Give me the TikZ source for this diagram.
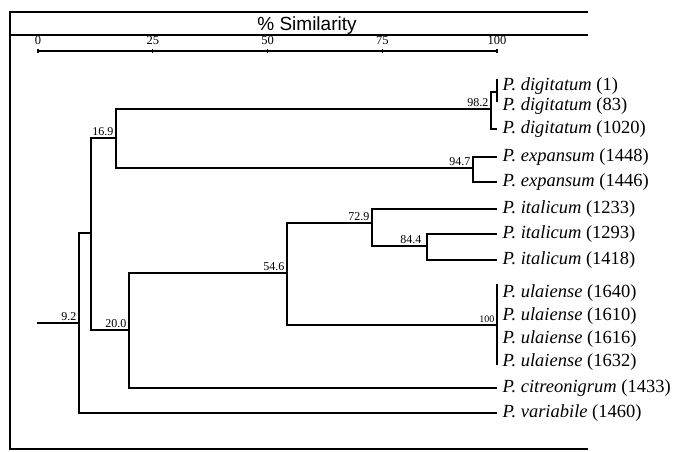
\documentclass[tikz,border=0pt]{standalone}
\usepackage{fontspec}
\setmainfont{Liberation Serif}
\newfontfamily\headfont{Liberation Sans}

\begin{document}
\begin{tikzpicture}[x=1pt, y=-1pt, line width=1.3pt, line join=miter,
  leaf/.style={anchor=west, inner sep=5pt, font=\fontsize{18.5}{20}\selectfont},
  sim/.style={anchor=south east, inner sep=2pt, font=\fontsize{12}{12}\selectfont},
  tick/.style={anchor=base, inner sep=0pt, font=\fontsize{12.5}{12.5}\selectfont}]
  \useasboundingbox (0,0) rectangle (677,451);

  % frame and heading
  \coordinate (ftl) at (10,12);
  \coordinate (ftr) at (588,12);
  \coordinate (fbl) at (10,449);
  \coordinate (fbr) at (588,449);
  \draw (ftr) -- (ftl) -- (fbl) -- (fbr);
  \coordinate (hl) at (10,35);
  \coordinate (hr) at (588,35);
  \draw (hl) -- (hr);
  \node[font=\headfont\fontsize{19}{19}\selectfont, anchor=base] (title) at (307,30) {\% Similarity};

  % scale
  \coordinate (s0) at (38,51);
  \coordinate (s100) at (497,51);
  \draw (s0) -- (s100);
  \foreach \s in {0,25,50,75,100}{
    \draw ({38+4.59*\s},49) -- ({38+4.59*\s},53);
    \node[tick] (t\s) at ({38+4.59*\s},44) {\s};
  }

  % leaves
  \foreach \n/\y/\sp/\num in {1/86/digitatum/1, 2/106/digitatum/83, 3/129/digitatum/1020,
      4/157/expansum/1448, 5/182/expansum/1446, 6/209/italicum/1233, 7/234/italicum/1293,
      8/260/italicum/1418, 9/293/ulaiense/1640, 10/316/ulaiense/1610, 11/339/ulaiense/1616,
      12/362/ulaiense/1632, 13/388/citreonigrum/1433, 14/413/variabile/1460}{
    \node[leaf] (l\n) at (497,\y) {\textit{P. \sp} (\num)};
  }

  % clusters
  \coordinate (d1) at (497,79);
  \coordinate (d2) at (497,102);
  \coordinate (c100a) at (497,92);
  \coordinate (c982) at (491,109);
  \coordinate (c947) at (473,168);
  \coordinate (c844) at (427,246);
  \coordinate (c729) at (372,223);
  \coordinate (u1) at (497,284);
  \coordinate (u2) at (497,365);
  \coordinate (c100b) at (497,325);
  \coordinate (c546) at (287,273);
  \coordinate (c200) at (129,330);
  \coordinate (c169) at (116,138);
  \coordinate (c115) at (91,233);
  \coordinate (c92) at (79,323);
  \coordinate (root) at (37,323);

  \draw (d1) -- (d2);
  \draw (c100a) -| (c982) |- (l3.west);
  \draw (l4.west) -| (c947) |- (l5.west);
  \draw (l6.west) -| (c729) |- (c844);
  \draw (l7.west) -| (c844) |- (l8.west);
  \draw (u1) -- (u2);
  \draw (c729) -| (c546) |- (c100b);
  \draw (c546) -| (c200) |- (l13.west);
  \draw (c982) -| (c169) |- (c947);
  \draw (c169) -| (c115) |- (c200);
  \draw (c115) -| (c92) |- (l14.west);
  \draw (root) -- (c92);

  % similarity values
  \node[sim] (v92) at (c92) {9.2};
  \node[sim] (v169) at (c169) {16.9};
  \node[sim] (v200) at (c200) {20.0};
  \node[sim] (v546) at (c546) {54.6};
  \node[sim] (v729) at (c729) {72.9};
  \node[sim, xshift=-3pt] (v844) at (c844) {84.4};
  \node[sim] (v947) at (c947) {94.7};
  \node[sim] (v982) at (c982) {98.2};
  \node[sim, font=\fontsize{10}{10}\selectfont] (v100) at (c100b) {100};
\end{tikzpicture}
\end{document}
